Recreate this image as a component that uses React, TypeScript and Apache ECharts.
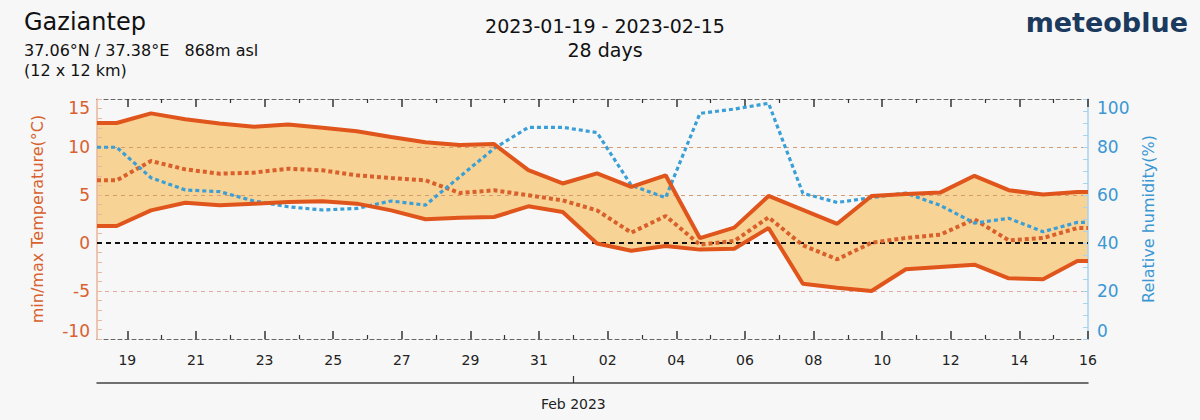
import React, { useEffect, useRef } from 'react';
import * as echarts from 'echarts';

// ---- data (daily values, 2023-01-19 ... ) ----
const xTickLabels = ['19', '21', '23', '25', '27', '29', '31', '02', '04', '06', '08', '10', '12', '14', '16'];
const monthLabels = ['Feb 2023'];
const monthStartDay = [13]; // days after 2023-01-19 00:00

const maxTemp = [12.5, 13.5, 12.9, 12.45, 12.1, 12.35, 12.0, 11.65, 11.05, 10.5, 10.2, 10.3, 7.6, 6.2,
  7.25, 5.85, 7.05, 0.5, 1.6, 4.9, 3.45, 2.0, 4.9, 5.1, 5.25, 7.0, 5.5, 5.05, 5.3];
const minTemp = [1.77, 3.4, 4.2, 3.92, 4.1, 4.27, 4.34, 4.1, 3.4, 2.47, 2.64, 2.71, 3.82, 3.23,
  -0.05, -0.8, -0.31, -0.69, -0.59, 1.56, -4.24, -4.65, -5.0, -2.74, -2.5, -2.26, -3.68, -3.78, -1.88];
const meanTemp = [6.53, 8.54, 7.67, 7.22, 7.33, 7.74, 7.57, 7.05, 6.77, 6.53, 5.21, 5.49, 4.97, 4.44,
  3.4, 1.08, 2.81, -0.17, 0.21, 2.67, -0.24, -1.7, 0.03, 0.52, 0.87, 2.47, 0.28, 0.52, 1.56];
const humidity = [79.9, 67.2, 62.1, 61.4, 57.5, 55.1, 53.75, 54.4, 57.5, 55.8, 67.6, 79.4, 88.2, 88.2,
  86, 64.0, 58.9, 94.0, 95.8, 98.2, 60.7, 56.9, 58.9, 60.8, 55.7, 48.3, 50.3, 44.7, 48.6];

// time axis in days after 2023-01-19 00:00
const SAMPLE_OFFSET = -0.31;
const X_MIN = -0.883;
const X_MAX = 28;

const FONT = '"DejaVu Sans", Verdana, sans-serif';
const ORANGE = '#e0551c';
const ORANGE_TXT = '#d8612e';
const BLUE = '#3a9fd6';
const BLUE_TXT = '#3b97d3';
const FILL = '#f8d396';
const BG = '#f7f7f7';

const xs = maxTemp.map((_, i) => i + SAMPLE_OFFSET);
const extX = [X_MIN, ...xs, X_MAX];
const extend = (arr: number[]) => [arr[0], ...arr, arr[arr.length - 1]];
const toPts = (arr: number[]) => extend(arr).map((v, i) => [extX[i], v]);
const bandData = extend(maxTemp).map((v, i) => [extX[i], extend(minTemp)[i], v]);

const majorDays = xTickLabels.map((_, k) => 2 * k);
const minorDays = xTickLabels.slice(1).map((_, k) => 2 * k + 1);

export default function App() {
  const ref = useRef<HTMLDivElement>(null);
  useEffect(() => {
    if (!ref.current) return;
    const chart = echarts.init(ref.current, null, { renderer: 'svg' });
    const baseX = {
      type: 'value',
      min: X_MIN,
      max: X_MAX,
      splitLine: { show: false },
    };
    const dashedBorder = { show: true, onZero: false, lineStyle: { color: '#666', width: 1, type: [4, 3] } };
    const noLine = { show: false, onZero: false };
    const tickColor = '#333';
    const option: any = {
      animation: false,
      backgroundColor: BG,
      textStyle: { fontFamily: FONT },
      grid: { left: 97, right: 112, top: 99, bottom: 81, containLabel: false },
      graphic: [
        { type: 'text', left: 24, top: 10, style: { text: 'Gaziantep', font: `24px ${FONT}`, fill: '#111' } },
        { type: 'text', left: 24, top: 42, style: { text: '37.06°N / 37.38°E   868m asl', font: `16px ${FONT}`, fill: '#111' } },
        { type: 'text', left: 24, top: 62, style: { text: '(12 x 12 km)', font: `16px ${FONT}`, fill: '#111' } },
        { type: 'text', x: 605, y: 26, style: { text: '2023-01-19 - 2023-02-15', font: `19px ${FONT}`, fill: '#111', align: 'center', verticalAlign: 'middle' } },
        { type: 'text', x: 605, y: 50, style: { text: '28 days', font: `19px ${FONT}`, fill: '#111', align: 'center', verticalAlign: 'middle' } },
        { type: 'text', x: 1188, y: 22, style: { text: 'meteoblue', font: `bold 27px ${FONT}`, fill: '#1b3a5e', align: 'right', verticalAlign: 'middle' } },
      ],
      xAxis: [
        {
          ...baseX, position: 'bottom',
          axisLine: dashedBorder,
          axisTick: { show: true, inside: true, length: 8, customValues: majorDays, lineStyle: { color: tickColor, width: 1.5 } },
          axisLabel: {
            show: true, customValues: majorDays, margin: 14, fontSize: 14, color: '#222', fontFamily: FONT,
            formatter: (v: number) => xTickLabels[Math.round(v / 2)] ?? '',
          },
        },
        {
          ...baseX, position: 'bottom',
          axisLine: noLine,
          axisTick: { show: true, inside: true, length: 4, customValues: minorDays, lineStyle: { color: tickColor, width: 1.2 } },
          axisLabel: { show: false },
        },
        {
          ...baseX, position: 'top',
          axisLine: dashedBorder,
          axisTick: { show: true, inside: true, length: 8, customValues: majorDays, lineStyle: { color: tickColor, width: 1.5 } },
          axisLabel: { show: false },
        },
        {
          ...baseX, position: 'top',
          axisLine: noLine,
          axisTick: { show: true, inside: true, length: 4, customValues: minorDays, lineStyle: { color: tickColor, width: 1.2 } },
          axisLabel: { show: false },
        },
        {
          ...baseX, position: 'bottom', offset: 44,
          axisLine: { show: true, onZero: false, lineStyle: { color: '#444', width: 1.5 } },
          axisTick: { show: true, inside: true, length: 7, customValues: monthStartDay, lineStyle: { color: '#333', width: 1.2 } },
          axisLabel: {
            show: true, customValues: monthStartDay, margin: 14, fontSize: 14, color: '#222', fontFamily: FONT,
            formatter: (v: number) => monthLabels[monthStartDay.indexOf(Math.round(v))] ?? '',
          },
        },
      ],
      yAxis: [
        {
          type: 'value', position: 'left', min: -10, max: 15, interval: 5,
          name: 'min/max Temperature(°C)', nameLocation: 'middle', nameGap: 52,
          nameTextStyle: { color: ORANGE_TXT, fontSize: 16, fontFamily: FONT },
          axisLine: { show: true, onZero: false, lineStyle: { color: '#eab59a', width: 1.5 } },
          axisTick: { show: true, inside: true, length: 5, lineStyle: { color: '#e9b8a0' } },
          minorTick: { show: true, splitNumber: 5, length: 5, lineStyle: { color: '#e9b8a0' } },
          axisLabel: { color: ORANGE_TXT, fontSize: 17, margin: 7, fontFamily: FONT, verticalAlignMinLabel: 'bottom', verticalAlignMaxLabel: 'top' },
          splitLine: {
            show: true,
            lineStyle: {
              type: [4, 4], width: 1,
              color: ['rgba(0,0,0,0)', '#eaa7a0', 'rgba(0,0,0,0)', '#d99a70', '#d99a70', 'rgba(0,0,0,0)'],
            },
          },
        },
        {
          type: 'value', position: 'right', min: 0, max: 100, interval: 20,
          name: 'Relative humidity(%)', nameLocation: 'middle', nameGap: 41,
          nameTextStyle: { color: BLUE_TXT, fontSize: 16, fontFamily: FONT },
          axisLine: { show: true, onZero: false, lineStyle: { color: '#a9d2ee', width: 1.5 } },
          axisTick: { show: true, inside: true, length: 5, lineStyle: { color: '#a9d2ee' } },
          minorTick: { show: true, splitNumber: 4, length: 5, lineStyle: { color: '#a9d2ee' } },
          axisLabel: { color: BLUE_TXT, fontSize: 17, margin: 9, fontFamily: FONT, verticalAlignMinLabel: 'bottom', verticalAlignMaxLabel: 'top' },
          splitLine: { show: false },
        },
      ],
      series: [
        {
          name: 'band', type: 'custom', xAxisIndex: 0, yAxisIndex: 0, silent: true, z: -1,
          data: bandData, encode: { x: 0, y: [1, 2] },
          renderItem: (params: any, api: any) => {
            if (params.dataIndex !== 0) return null;
            const upper = bandData.map((d) => api.coord([d[0], d[2]]));
            const lower = bandData.map((d) => api.coord([d[0], d[1]])).reverse();
            return { type: 'polygon', shape: { points: [...upper, ...lower] }, style: { fill: FILL } };
          },
        },
        {
          name: 'max', type: 'line', xAxisIndex: 0, yAxisIndex: 0, symbol: 'none',
          lineStyle: { color: ORANGE, width: 4 }, data: toPts(maxTemp), z: 4,
          markLine: {
            silent: true, symbol: 'none', label: { show: false }, z: 1,
            lineStyle: { color: '#111', width: 2, type: [5, 4] },
            data: [{ yAxis: 0 }],
          },
        },
        {
          name: 'min', type: 'line', xAxisIndex: 0, yAxisIndex: 0, symbol: 'none',
          lineStyle: { color: ORANGE, width: 4 }, data: toPts(minTemp), z: 4,
        },
        {
          name: 'mean', type: 'line', xAxisIndex: 0, yAxisIndex: 0, symbol: 'none',
          lineStyle: { color: '#d9602b', width: 4, type: [4, 3] }, data: toPts(meanTemp), z: 3,
        },
        {
          name: 'humidity', type: 'line', xAxisIndex: 0, yAxisIndex: 1, symbol: 'none',
          lineStyle: { color: BLUE, width: 3.2, type: [4, 3] }, data: toPts(humidity), z: 3,
        },
      ],
    };
    chart.setOption(option);
    return () => chart.dispose();
  }, []);
  return (
    <div
      ref={ref}
      style={{ position: 'fixed', left: 0, top: 0, width: 1200, height: 420, background: BG }}
    />
  );
}
